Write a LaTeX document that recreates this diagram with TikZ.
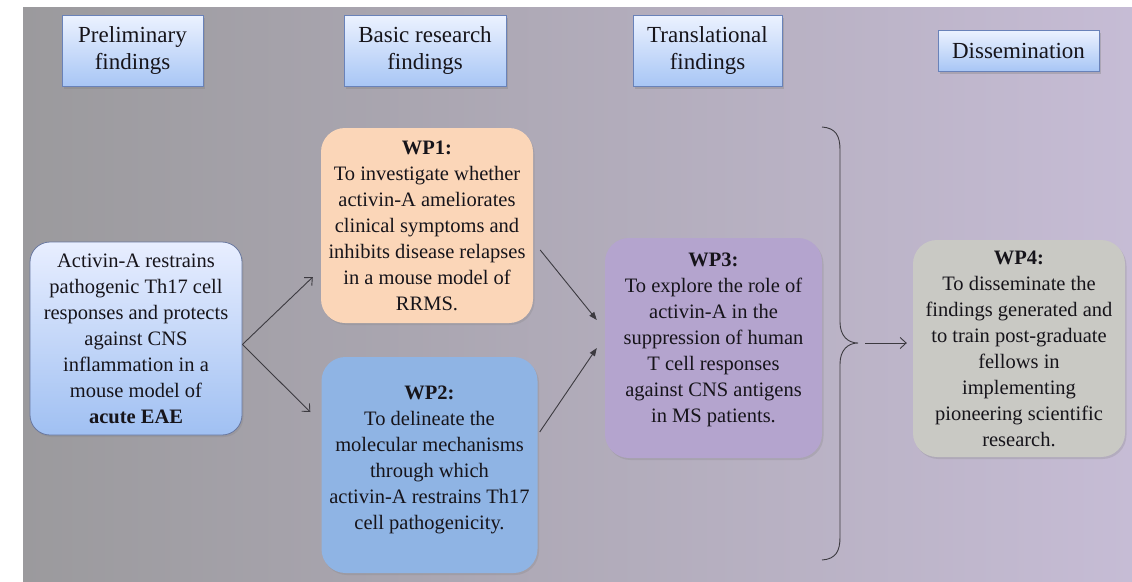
\documentclass[tikz,border=0pt]{standalone}
\usepackage{fontspec}
\setmainfont{Liberation Serif}
\usetikzlibrary{arrows.meta,shadows,calc}
\definecolor{bgL}{RGB}{155,154,157}
\definecolor{bgR}{RGB}{198,188,213}
\definecolor{hdrTop}{RGB}{236,242,255}
\definecolor{hdrBot}{RGB}{168,198,245}
\definecolor{hdrLine}{RGB}{105,130,185}
\definecolor{leftTop}{RGB}{232,238,255}
\definecolor{leftBot}{RGB}{160,192,242}
\definecolor{leftLine}{RGB}{105,120,160}
\definecolor{wpA}{RGB}{251,214,184}
\definecolor{wpB}{RGB}{143,180,228}
\definecolor{wpC}{RGB}{180,164,206}
\definecolor{wpD}{RGB}{201,201,196}
\definecolor{txt}{RGB}{22,20,26}
\definecolor{lineC}{RGB}{60,58,64}
\newcommand\hdrfont{\fontsize{23}{27}\selectfont}
\newcommand\mybodyfont{\fontsize{20.5}{26}\selectfont}
\begin{document}
\begin{tikzpicture}[x=1pt,y=-1pt,
  hdr/.style={draw=hdrLine, line width=0.8pt, top color=hdrTop, bottom color=hdrBot,
    drop shadow={shadow xshift=2pt,shadow yshift=-2.5pt,opacity=0.35},
    align=center, font=\hdrfont, text=txt, inner sep=0pt},
  wp/.style={rounded corners=24pt, align=center, font=\mybodyfont, text=txt, inner sep=0pt,
    drop shadow={shadow xshift=1.5pt,shadow yshift=-2pt,opacity=0.25}},
  openarr/.style={draw=lineC, line width=0.9pt, -{Straight Barb[length=6pt,width=11pt]}},
  fillarr/.style={draw=lineC, line width=0.9pt, -{Triangle[length=8pt,width=6pt]}},
  bracestyle/.style={draw=lineC, line width=0.9pt}
]
\useasboundingbox (0,0) rectangle (1132,581);
\fill[white] (0,0) rectangle (1132,581);
\shade[left color=bgL, right color=bgR] (23,7) rectangle (1132,581);

% header boxes
\node[hdr, minimum width=141pt, minimum height=71pt] (H1) at (132.5,50.5) {Preliminary\\findings};
\node[hdr, minimum width=162pt, minimum height=71pt] (H2) at (425,50.5) {Basic research\\findings};
\node[hdr, minimum width=149pt, minimum height=71pt] (H3) at (707.5,50.5) {Translational\\findings};
\node[hdr, minimum width=161pt, minimum height=41pt] (H4) at (1018.5,50.5) {Dissemination};

% left node
\node[wp, rounded corners=20pt, draw=leftLine, line width=0.8pt, top color=leftTop, bottom color=leftBot,
  minimum width=212pt, minimum height=193pt] (L) at (136,338.5)
  {Activin-A restrains\\pathogenic Th17 cell\\responses and protects\\against CNS\\inflammation in a\\mouse model of\\\textbf{acute EAE}};

% work packages
\node[wp, fill=wpA, minimum width=212pt, minimum height=195pt] (WP1) at (427,225.5)
  {\textbf{WP1:}\\To investigate whether\\activin-A ameliorates\\clinical symptoms and\\inhibits disease relapses\\in a mouse model of\\RRMS.};
\node[wp, fill=wpB, minimum width=216pt, minimum height=216pt] (WP2) at (429.5,465)
  {\textbf{WP2:}\\To delineate the\\molecular mechanisms\\through which\\activin-A restrains Th17\\cell pathogenicity.\\[-12pt]};
\node[wp, fill=wpC, minimum width=217pt, minimum height=220pt] (WP3) at (713.5,348)
  {\textbf{WP3:}\\To explore the role of\\activin-A in the\\suppression of human\\T cell responses\\against CNS antigens\\in MS patients.\\[-6pt]};
\node[wp, fill=wpD, minimum width=212pt, minimum height=217pt] (WP4) at (1019,348.5)
  {\textbf{WP4:}\\To disseminate the\\findings generated and\\to train post-graduate\\fellows in\\implementing\\pioneering scientific\\research.};

% connectors
\draw[openarr] ([yshift=-6pt]L.east) -- ([shift={(-8pt,-51.5pt)}]WP1.west);
\draw[openarr] ([yshift=-6pt]L.east) -- ([shift={(-11pt,53pt)}]WP2.west);
\draw[fillarr] ([shift={(7pt,-24.5pt)}]WP1.east) -- ([shift={(-8pt,28pt)}]WP3.west);
\draw[fillarr] ([shift={(2pt,33pt)}]WP2.east) -- ([xshift=-8pt]WP3.west);

% brace
\coordinate (btip) at (858,343);
\draw[bracestyle] (822,127) .. controls (836,128) and (840,136) .. (840,150)
  -- (840,322) .. controls (840,336) and (848,343) .. (btip)
  .. controls (848,343) and (840,350) .. (840,364)
  -- (840,537) .. controls (840,551) and (836,559) .. (822,560);
\draw[openarr] ([xshift=7pt]btip) -- ([xshift=-6pt]WP4.west |- btip);
\end{tikzpicture}
\end{document}
